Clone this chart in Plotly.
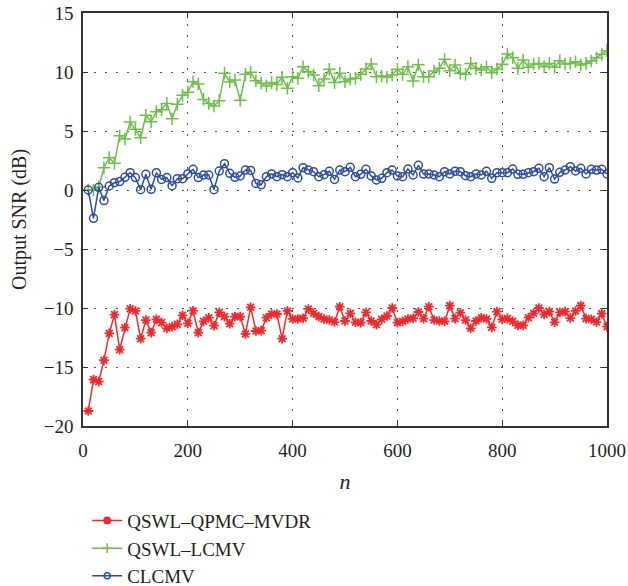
import plotly.graph_objects as go

# Sample index n (every 10 samples)
n = list(range(10, 1001, 10))

# Output SNR (dB) per method
snr_qswl_qpmc_mvdr = [
    -18.73, -16.07, -16.24, -14.43, -12.15, -10.56, -13.53, -11.67, -10.06, -10.25,
    -12.60, -11.02, -12.09, -10.96, -11.24, -11.72, -11.58, -11.38, -10.62, -11.30,
    -10.23, -12.09, -11.13, -10.82, -11.50, -10.37, -10.73, -11.33, -10.73, -10.73,
    -12.20, -9.94, -11.95, -11.92, -10.82, -10.51, -10.51, -12.60, -10.25, -10.93,
    -10.93, -10.87, -10.08, -10.45, -10.73, -10.93, -11.02, -11.19, -9.89, -11.10,
    -10.45, -11.21, -11.24, -10.37, -11.10, -11.41, -10.96, -10.68, -10.00, -11.24,
    -11.13, -10.93, -10.87, -10.34, -10.90, -9.89, -11.02, -11.10, -11.13, -9.80,
    -10.90, -10.40, -11.02, -11.72, -11.10, -10.82, -10.93, -11.64, -10.31, -10.96,
    -10.90, -11.13, -11.47, -11.47, -10.82, -10.45, -10.00, -10.54, -10.31, -11.21,
    -10.37, -10.31, -10.85, -10.25, -9.80, -10.90, -10.96, -11.19, -10.48, -11.58,
]
snr_qswl_lcmv = [
    0.00, 0.00, 0.25, 1.89, 2.74, 2.26, 4.60, 4.32, 5.76, 5.14,
    4.43, 6.33, 5.79, 6.64, 6.81, 7.34, 6.04, 7.26, 8.02, 8.28,
    9.18, 8.98, 7.68, 7.34, 7.12, 7.57, 9.89, 9.15, 9.32, 7.60,
    9.80, 9.97, 9.26, 9.05, 8.81, 9.10, 8.95, 9.55, 8.62, 9.60,
    9.46, 10.45, 10.03, 9.75, 8.84, 9.41, 10.23, 9.10, 9.89, 9.18,
    9.41, 9.46, 9.80, 10.25, 10.68, 9.60, 9.66, 9.55, 9.75, 10.23,
    9.80, 10.45, 9.24, 10.62, 9.60, 9.60, 10.08, 10.31, 11.07, 10.11,
    10.59, 9.89, 9.80, 10.73, 10.31, 10.17, 10.45, 9.94, 10.25, 10.65,
    11.53, 11.21, 10.31, 11.02, 10.40, 10.68, 10.73, 10.45, 10.73, 10.40,
    10.96, 10.68, 10.73, 10.87, 10.59, 10.73, 10.93, 11.21, 11.50, 11.81,
]
snr_clcmv = [
    0.00, -2.40, 0.23, -0.90, 0.34, 0.62, 0.71, 1.07, 1.47, 1.05,
    0.03, 1.33, 0.06, 1.47, 0.90, 1.05, 0.37, 0.96, 0.96, 1.36,
    1.75, 1.05, 1.27, 1.27, 0.03, 1.61, 2.23, 1.41, 1.07, 1.19,
    1.69, 1.66, 0.56, 0.44, 1.13, 1.36, 1.13, 1.30, 1.13, 1.47,
    1.02, 1.89, 1.69, 1.55, 1.13, 1.30, 1.58, 0.90, 1.69, 1.55,
    1.92, 1.13, 1.33, 1.75, 1.19, 0.85, 0.99, 1.47, 1.69, 1.19,
    1.13, 1.78, 1.27, 2.09, 1.35, 1.36, 1.27, 1.13, 1.55, 1.36,
    1.58, 1.55, 1.21, 1.13, 1.36, 1.27, 1.58, 0.99, 1.47, 1.47,
    1.47, 1.78, 1.33, 1.33, 1.47, 1.55, 1.84, 1.13, 1.89, 0.93,
    1.50, 1.69, 1.98, 1.61, 1.84, 1.36, 1.75, 1.69, 1.75, 1.36,
]

x_ticks = [0, 200, 400, 600, 800, 1000]
y_ticks = [-20, -15, -10, -5, 0, 5, 10, 15]

RED = "#ee2a2f"
GREEN = "#6dbf4a"
BLUE = "#2e4d9e"
INK = "#231f20"
FONT = "Liberation Serif"

series = [
    ("QSWL\u2013QPMC\u2013MVDR", snr_qswl_qpmc_mvdr, RED, "asterisk-open", 8, 1.8, "circle", 6),
    ("QSWL\u2013LCMV", snr_qswl_lcmv, GREEN, "cross-thin-open", 9, 1.5, "cross-thin-open", 7),
    ("CLCMV", snr_clcmv, BLUE, "circle-open", 8, 1.5, "circle-open", 6),
]

fig = go.Figure()

# Data curves
for name, values, color, sym, size, mlw, _, _ in series:
    fig.add_trace(go.Scatter(
        x=n, y=values, name=name, showlegend=False,
        mode="lines+markers",
        line=dict(color=color, width=1.5),
        marker=dict(symbol=sym, size=size, color=color, line=dict(color=color, width=mlw)),
    ))

# Legend keys with small glyphs
for name, _, color, _, _, mlw, lsym, lsize in series:
    fig.add_trace(go.Scatter(
        x=[None], y=[None], name=name, showlegend=True,
        mode="lines+markers",
        line=dict(color=color, width=1.5),
        marker=dict(symbol=lsym, size=lsize, color=color, line=dict(color=color, width=mlw)),
    ))

axis_common = dict(
    showline=True, linecolor="#333333", linewidth=1.5, mirror="allticks",
    ticks="inside", ticklen=5, tickwidth=1.2, tickcolor="#333333",
    showgrid=True, gridcolor="#555555", gridwidth=1.3, griddash="2px,9px",
    zeroline=False,
    tickfont=dict(family=FONT, size=19, color=INK),
)

fig.update_xaxes(
    range=[0, 1000], tickvals=x_ticks,
    title=dict(text="<i>n</i>", font=dict(family=FONT, size=22, color=INK), standoff=14),
    ticklabelstandoff=6,
    **axis_common,
)
fig.update_yaxes(
    range=[-20, 15], tickvals=y_ticks,
    title=dict(text="Output SNR (dB)", font=dict(family=FONT, size=20, color=INK), standoff=12),
    ticklabelstandoff=4,
    **axis_common,
)

fig.update_layout(
    width=628, height=586,
    margin=dict(l=83, r=21, t=13, b=160, autoexpand=False),
    paper_bgcolor="white", plot_bgcolor="white",
    font=dict(family=FONT, size=19, color=INK),
    showlegend=True,
    legend=dict(
        x=0.008, xanchor="left", y=-0.183, yanchor="top",
        font=dict(family=FONT, size=19, color=INK),
        bgcolor="rgba(0,0,0,0)", borderwidth=0,
        traceorder="normal", tracegroupgap=0,
    ),
)

fig.write_html("out.html")
